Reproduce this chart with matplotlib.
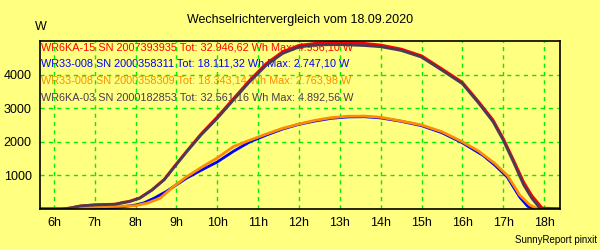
import matplotlib
matplotlib.use("Agg")
import matplotlib.pyplot as plt

plt.rcParams['font.family'] = ['Liberation Sans', 'DejaVu Sans']

# hours of day, power in W
t_red = [5.66, 6.2, 6.4, 6.65, 7.0, 7.5, 7.7, 7.85, 8.1, 8.4, 8.7, 8.95, 9.25, 9.6, 10.0, 10.4, 10.8,
         11.2, 11.6, 12.0, 12.4, 12.8, 13.2, 13.6, 14.0, 14.5, 15.0, 15.5, 16.0, 16.4, 16.75, 17.0,
         17.25, 17.5, 17.7, 17.95, 18.39]
w_red = [0, 0, 30, 90, 125, 145, 200, 230, 330, 570, 880, 1270, 1720, 2230, 2740, 3290, 3840,
         4330, 4680, 4870, 4930, 4956, 4950, 4930, 4880, 4760, 4560, 4170, 3770, 3190, 2650, 2100,
         1460, 800, 400, 30, 0]

t_blue = [5.66, 6.9, 7.1, 7.6, 8.0, 8.2, 8.45, 8.75, 9.0, 9.25, 9.6, 10.0, 10.4, 10.8, 11.2, 11.6,
          12.0, 12.4, 12.8, 13.2, 13.6, 14.0, 14.5, 15.0, 15.5, 16.0, 16.5, 16.8, 17.1, 17.4, 17.6,
          17.8, 18.39]
w_blue = [0, 0, 20, 50, 120, 180, 320, 520, 720, 920, 1150, 1400, 1720, 2000, 2200, 2380,
          2520, 2620, 2700, 2740, 2747, 2710, 2610, 2480, 2270, 1970, 1600, 1300, 950, 360, 80,
          0, 0]

t_orange = [5.66, 6.5, 6.8, 7.2, 7.6, 8.0, 8.3, 8.6, 8.9, 9.25, 9.6, 10.0, 10.4, 10.8, 11.2, 11.6,
            12.0, 12.4, 12.8, 13.2, 13.6, 14.0, 14.5, 15.0, 15.5, 16.0, 16.4, 16.8, 17.1, 17.25,
            17.4, 17.65, 17.85, 18.39]
w_orange = [0, 0, 40, 70, 80, 100, 180, 320, 640, 960, 1230, 1520, 1860, 2050, 2230, 2400,
            2530, 2640, 2720, 2760, 2764, 2730, 2620, 2500, 2300, 2000, 1720, 1350, 1000, 720,
            420, 120, 0, 0]

t_dark = [5.66, 6.2, 6.4, 6.65, 7.0, 7.5, 7.85, 8.1, 8.4, 8.7, 8.95, 9.25, 9.6, 10.0, 10.4, 10.8,
          11.2, 11.6, 12.0, 12.4, 12.8, 13.2, 13.6, 14.0, 14.5, 15.0, 15.5, 16.0, 16.4, 16.75, 17.0,
          17.25, 17.5, 17.7, 17.9, 18.39]
w_dark = [0, 0, 30, 90, 120, 140, 220, 320, 560, 870, 1250, 1700, 2200, 2700, 3250, 3800,
          4280, 4630, 4820, 4880, 4892, 4885, 4865, 4830, 4720, 4520, 4130, 3730, 3150, 2600, 2050,
          1400, 720, 320, 20, 0]

labels = ["WR6KA-15 SN 2007393935 Tot: 32.946,62 Wh Max: 4.956,10 W",
          "WR33-008 SN 2000358311 Tot: 18.111,32 Wh Max: 2.747,10 W",
          "WR33-008 SN 2000358309 Tot: 18.343,14 Wh Max: 2.763,98 W",
          "WR6KA-03 SN 2000182853 Tot: 32.561,16 Wh Max: 4.892,56 W"]
colors = ["#ff0000", "#0000ff", "#ff8c00", "#4b3a55"]

hours = list(range(6, 19))
yticks = [1000, 2000, 3000, 4000]

bg = "#ffff80"
fig = plt.figure(figsize=(6, 2.5), dpi=100, facecolor=bg)
ax = fig.add_axes([40 / 600, 41 / 250, 520 / 600, 168 / 250], facecolor=bg)

series = [(t_red, w_red), (t_blue, w_blue), (t_orange, w_orange), (t_dark, w_dark)]
for (t, w), c in zip(series, colors):
    ax.plot(t, w, color=c, lw=2.0, zorder=3)

for i, (lab, c) in enumerate(zip(labels, colors)):
    ax.text(0.002, 0.963 - i * 0.099, lab, transform=ax.transAxes, color=c,
            fontsize=7.8, va='center', ha='left', zorder=0.5)

ax.set_xlim(5.66, 18.39)
ax.set_ylim(0, 5000)
ax.set_xticks(hours)
ax.set_xticklabels([f"{h}h" for h in hours])
ax.set_yticks(yticks)
ax.tick_params(length=0, labelsize=9, pad=6)
ax.grid(True, color="#00ee00", ls=(0, (3, 3)), lw=1, zorder=1)
ax.set_axisbelow(False)
for s in ax.spines.values():
    s.set_color("black")
    s.set_linewidth(1.2)
    s.set_zorder(4)

fig.text(0.5, 0.918, "Wechselrichtervergleich vom 18.09.2020", ha='center', va='center', fontsize=9)
fig.text(0.058, 0.89, "W", ha='left', va='center', fontsize=9)
fig.text(0.995, 0.02, "SunnyReport pinxit", ha='right', va='bottom', fontsize=7)

fig.savefig("out.png", dpi=100, facecolor=bg)
